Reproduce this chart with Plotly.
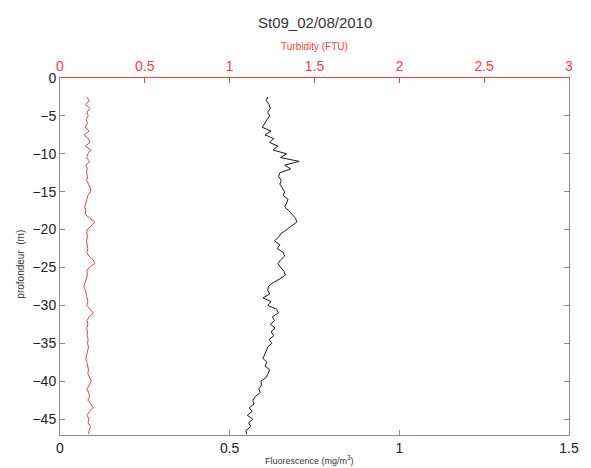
import plotly.graph_objects as go

# Profile depths (m), 0.5 m sampling from -2.5 to -47
depth = [
    -2.5, -3.0, -3.5, -4.0, -4.5, -5.0, -5.5, -6.0, -6.5, -7.0,
    -7.5, -8.0, -8.5, -9.0, -9.5, -10.0, -10.5, -11.0, -11.5, -12.0,
    -12.5, -13.0, -13.5, -14.0, -14.5, -15.0, -15.5, -16.0, -16.5, -17.0,
    -17.5, -18.0, -18.5, -19.0, -19.5, -20.0, -20.5, -21.0, -21.5, -22.0,
    -22.5, -23.0, -23.5, -24.0, -24.5, -25.0, -25.5, -26.0, -26.5, -27.0,
    -27.5, -28.0, -28.5, -29.0, -29.5, -30.0, -30.5, -31.0, -31.5, -32.0,
    -32.5, -33.0, -33.5, -34.0, -34.5, -35.0, -35.5, -36.0, -36.5, -37.0,
    -37.5, -38.0, -38.5, -39.0, -39.5, -40.0, -40.5, -41.0, -41.5, -42.0,
    -42.5, -43.0, -43.5, -44.0, -44.5, -45.0, -45.5, -46.0, -46.5, -47.0,
]

# Fluorescence (mg/m3)
fluorescence = [
    0.612, 0.608, 0.616, 0.620, 0.612, 0.618, 0.610, 0.604, 0.596, 0.622,
    0.604, 0.630, 0.618, 0.642, 0.628, 0.668, 0.650, 0.705, 0.662, 0.680,
    0.648, 0.644, 0.652, 0.648, 0.656, 0.662, 0.658, 0.672, 0.668, 0.662,
    0.674, 0.684, 0.694, 0.698, 0.684, 0.668, 0.652, 0.644, 0.632, 0.648,
    0.640, 0.658, 0.662, 0.650, 0.642, 0.652, 0.660, 0.664, 0.648, 0.628,
    0.614, 0.612, 0.618, 0.598, 0.622, 0.612, 0.638, 0.644, 0.626, 0.632,
    0.620, 0.634, 0.622, 0.630, 0.616, 0.624, 0.612, 0.608, 0.604, 0.598,
    0.610, 0.604, 0.618, 0.614, 0.608, 0.592, 0.594, 0.586, 0.590, 0.576,
    0.568, 0.572, 0.558, 0.566, 0.552, 0.568, 0.556, 0.562, 0.548, 0.550,
]

# Turbidity (FTU)
turbidity = [
    0.158, 0.172, 0.150, 0.176, 0.160, 0.166, 0.154, 0.162, 0.148, 0.172,
    0.142, 0.168, 0.176, 0.150, 0.182, 0.164, 0.158, 0.174, 0.152, 0.160,
    0.156, 0.162, 0.158, 0.166, 0.178, 0.180, 0.164, 0.158, 0.150, 0.146,
    0.152, 0.148, 0.176, 0.206, 0.184, 0.160, 0.158, 0.162, 0.156, 0.160,
    0.164, 0.158, 0.170, 0.196, 0.204, 0.172, 0.158, 0.162, 0.156, 0.146,
    0.140, 0.150, 0.156, 0.160, 0.164, 0.158, 0.176, 0.196, 0.172, 0.160,
    0.164, 0.158, 0.162, 0.160, 0.166, 0.162, 0.168, 0.164, 0.158, 0.152,
    0.158, 0.162, 0.168, 0.164, 0.176, 0.184, 0.172, 0.160, 0.168, 0.176,
    0.164, 0.182, 0.194, 0.174, 0.160, 0.170, 0.166, 0.180, 0.172, 0.168,
]

y_ticks = [0, -5, -10, -15, -20, -25, -30, -35, -40, -45]
fluo_ticks = [0, 0.5, 1, 1.5]
fluo_labels = ["0", "0.5", "1", "1.5"]
turb_ticks = [0, 0.5, 1, 1.5, 2, 2.5, 3]
turb_labels = ["0", "0.5", "1", "1.5", "2", "2.5", "3"]

RED = "#ff3b3b"
AXIS = "#8c8c8c"
FONT = "Liberation Sans, Arial, sans-serif"

fig = go.Figure()
fig.add_trace(go.Scatter(
    x=turbidity, y=depth, xaxis="x2", yaxis="y", mode="lines",
    line=dict(color=RED, width=1), showlegend=False,
))
fig.add_trace(go.Scatter(
    x=fluorescence, y=depth, xaxis="x", yaxis="y", mode="lines",
    line=dict(color="#1a1a1a", width=1), showlegend=False,
))

fig.update_layout(
    width=591, height=468,
    margin=dict(l=60, r=18, t=78, b=30),
    paper_bgcolor="white", plot_bgcolor="white",
    font=dict(family=FONT, size=14, color="#222"),
    xaxis=dict(
        range=[0, 1.5], tickvals=fluo_ticks, ticktext=fluo_labels,
        showgrid=False, zeroline=False, showline=True, linecolor=AXIS,
        linewidth=1, ticks="inside", ticklen=5, tickcolor=AXIS,
        tickfont=dict(size=14, color="#222"), side="bottom",
    ),
    xaxis2=dict(
        range=[0, 3], tickvals=turb_ticks, ticktext=turb_labels,
        overlaying="x", side="top", anchor="y",
        showgrid=False, zeroline=False, showline=True, linecolor=RED,
        linewidth=1, ticks="inside", ticklen=5, tickcolor=RED,
        tickfont=dict(size=14, color=RED),
    ),
    yaxis=dict(
        range=[-47.1, 0], tickvals=y_ticks,
        showgrid=False, zeroline=False, showline=True, linecolor=AXIS,
        linewidth=1, mirror="ticks", ticks="inside", ticklen=5,
        tickcolor=AXIS, tickfont=dict(size=14, color="#222"),
    ),
    annotations=[
        dict(text="St09_02/08/2010", x=0.5, y=1.156, xref="paper", yref="paper",
             showarrow=False, font=dict(size=15, color="#333"),
             xanchor="center", yanchor="middle"),
        dict(text="Turbidity (FTU)", x=0.5, y=1.089, xref="paper", yref="paper",
             showarrow=False, font=dict(size=10, color=RED),
             xanchor="center", yanchor="middle"),
        dict(text="Fluorescence (mg/m<sup>3</sup>)", x=0.49, y=-0.07,
             xref="paper", yref="paper", showarrow=False,
             font=dict(size=9, color="#333"), xanchor="center", yanchor="middle"),
        dict(text="profondeur  (m)", x=-0.078, y=0.478, xref="paper",
             yref="paper", showarrow=False, textangle=-90,
             font=dict(size=10, color="#333"), xanchor="center", yanchor="middle"),
    ],
)

fig.write_html("out.html")
